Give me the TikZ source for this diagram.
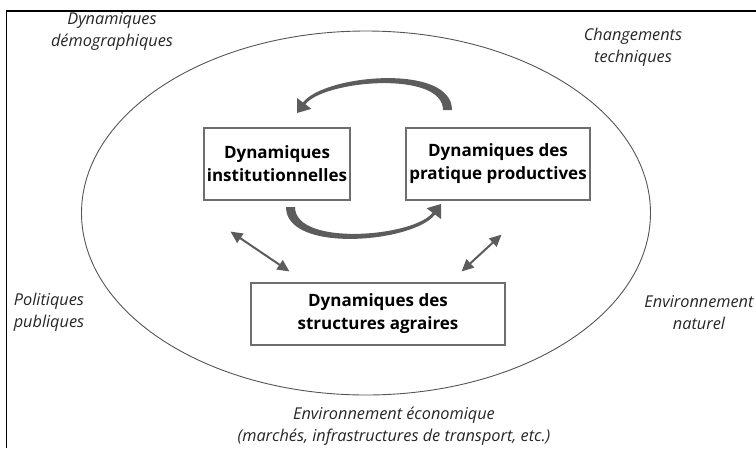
\documentclass[tikz,border=0pt]{standalone}
\usepackage{fontspec}
\setmainfont{Open Sans}
\usetikzlibrary{arrows.meta}

\definecolor{linegray}{HTML}{555555}
\definecolor{boxgray}{HTML}{6E6E6E}
\definecolor{arrowgray}{HTML}{5C5C5C}

\tikzset{
  context/.style={font=\fontsize{16.3}{22}\selectfont\itshape, align=center, text=black!85},
  dynbox/.style={draw=boxgray, line width=1.1pt, align=center,
    font=\fontsize{17}{23}\selectfont\bfseries, inner sep=0pt},
  dblarrow/.style={draw=arrowgray, line width=2pt,
    {Triangle[length=12pt,width=11pt]}-{Triangle[length=12pt,width=11pt]}},
}

% tapered curved arrow (drawn once, turned for the lower one)
\newcommand{\cyclearrow}[1][]{%
  \fill[arrowgray,#1] (452,110) .. controls (452,63) and (324,74.5) .. (303,102.5)
    -- (297,98) -- (297,113) -- (311.4,108.8) -- (305.4,104.3)
    .. controls (323.4,80.3) and (443,70) .. (443,110) -- cycle;}

\begin{document}
\begin{tikzpicture}[x=1pt, y=-1pt]
  \useasboundingbox (0,0) rectangle (756,448);
  \draw[black, line width=1.4pt] (6.5,448) -- (6.5,11) -- (756,11);

  \draw[linegray, line width=0.9pt] (366,213) ellipse (284.5 and 182);

  % context
  \node[context] (demo) at (112,31) {Dynamiques\\démographiques};
  \node[context] (tech) at (633,47) {Changements\\techniques};
  \node[context] (pol) at (49,312.5) {Politiques\\publiques};
  \node[context] (nat) at (699,312.5) {Environnement\\naturel};
  \node[context] (eco) at (394,426) {Environnement économique\\(marchés, infrastructures de transport, etc.)};

  % dynamics
  \node[dynbox, minimum width=146pt, minimum height=72pt] (inst) at (277,164) {Dynamiques\\institutionnelles};
  \node[dynbox, minimum width=184pt, minimum height=72pt] (prod) at (498,164) {Dynamiques des\\pratique productives};
  \node[dynbox, minimum width=254pt, minimum height=62pt] (agr) at (378,314) {Dynamiques des\\structures agraires};

  \cyclearrow
  \cyclearrow[rotate around={180:(369,158.5)}]

  \draw[dblarrow] ([shift={(27,31)}]inst.south west) -- ([shift={(39,-11)}]agr.north west);
  \draw[dblarrow] ([shift={(-89,34)}]prod.south east) -- ([shift={(-44,-11)}]agr.north east);
\end{tikzpicture}
\end{document}
